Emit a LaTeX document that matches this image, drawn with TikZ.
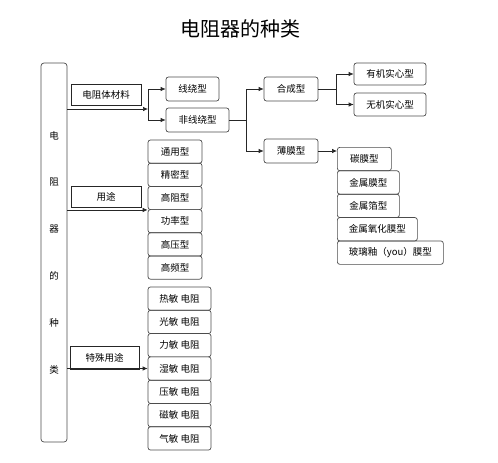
\documentclass[tikz,border=0pt]{standalone}
\usepackage{fontspec}
\setmainfont{Noto Sans CJK SC}
\usetikzlibrary{arrows.meta,positioning}

\begin{document}
\begin{tikzpicture}[x=1pt,y=-1pt,line width=0.7pt,
    box/.style={draw=black!70,rounded corners=2.5pt,inner sep=0pt,minimum height=23pt,font=\fontsize{9.5}{11}\selectfont},
    tag/.style={draw=black!85,inner sep=0pt,minimum width=70pt,minimum height=21pt,font=\fontsize{9.5}{11}\selectfont},
    arr/.style={draw=black!85,-{Latex[length=5pt,width=4.5pt]}},
    lnk/.style={draw=black!85}]
    \useasboundingbox (0,0) rectangle (498,463);
    \node[font=\fontsize{20}{24}\selectfont] (title) at (240,29) {电阻器的种类};
    % left column
    \node[draw=black!70,rounded corners=3pt,minimum width=26pt,minimum height=379pt,inner sep=0pt,
          align=center,font=\fontsize{9.5}{46.8}\selectfont] (kind) at (54,252.5) {电\\阻\\器\\的\\种\\类};
    \node[tag] (mat) at (106,94.5) {电阻体材料};
    \node[tag] (use) at (106,196.5) {用途};
    \node[tag,minimum width=69pt,minimum height=23pt] (spec) at (104.5,357.5) {特殊用途};
    % material branch
    \node[box,minimum width=53pt,minimum height=24pt] (wire) at (192.5,89) {线绕型};
    \node[box,minimum width=63pt,minimum height=24pt] (nwire) at (197.5,120) {非线绕型};
    \node[box,minimum width=54pt,minimum height=24pt] (comp) at (291,89) {合成型};
    \node[box,minimum width=54pt,minimum height=24pt] (film) at (291,151) {薄膜型};
    \node[box,minimum width=72pt,minimum height=22pt] (org) at (390,74) {有机实心型};
    \node[box,minimum width=72pt,minimum height=23pt] (inorg) at (390,104.5) {无机实心型};
    \foreach \w/\t [count=\i] in {54/碳膜型,62/金属膜型,62/金属箔型,80/金属氧化膜型,106/玻璃釉（you）膜型}
        \node[box,anchor=north west,minimum width=\w pt,minimum height=23.4pt] (f\i) at (337,{147+23.4*(\i-1)}) {\t};
    % use and special lists
    \foreach \t [count=\i] in {通用型,精密型,高阻型,功率型,高压型,高频型}
        \node[box,minimum width=54pt,minimum height=23.2pt] (u\i) at (175,{151.6+23.2*(\i-1)}) {\t};
    \foreach \t [count=\i] in {热敏 电阻,光敏 电阻,力敏 电阻,湿敏 电阻,压敏 电阻,磁敏 电阻,气敏 电阻}
        \node[box,minimum width=63pt,minimum height=23.3pt] (s\i) at (179.5,{298.6+23.3*(\i-1)}) {\t};
    % connectors
    \coordinate (j1) at (148,109);
    \coordinate (j2) at (246,120);
    \coordinate (j3) at (336,89);
    \draw[arr] (kind.east |- j1) -- (j1);
    \draw[arr] (j1) |- (wire.west);
    \draw[arr] (j1) |- (nwire.west);
    \draw[lnk] (nwire.east) -- (j2);
    \draw[arr] (j2) |- (comp.west);
    \draw[arr] (j2) |- (film.west);
    \draw[lnk] (comp.east) -- (j3);
    \draw[arr] (j3) |- (org.west);
    \draw[arr] (j3) |- (inorg.west);
    \draw[arr] (film.east) -- (film.east -| f1.west);
    \draw[arr] (kind.east |- u3.south) -- (u3.south west);
    \draw[arr] (kind.east |- s4.west) -- (s4.west);
\end{tikzpicture}
\end{document}
